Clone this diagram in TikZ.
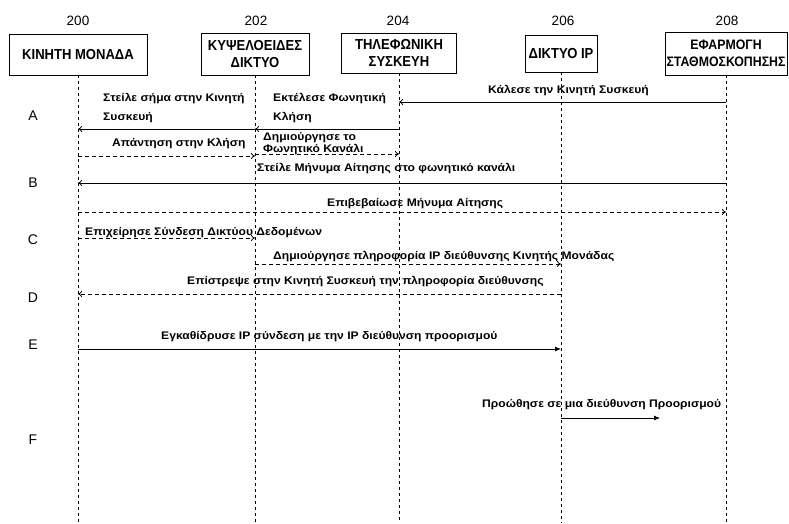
\documentclass[tikz,border=0pt]{standalone}
\usepackage{fontspec}
\setmainfont{Liberation Sans}
\newfontfamily\headfont{Liberation Sans}[FakeStretch=0.9]
\newfontfamily\msgfont{Liberation Sans}[FakeStretch=1.1]
\usetikzlibrary{arrows.meta}
\begin{document}
\begin{tikzpicture}[x=1pt,y=-1pt,
  hbox/.style={draw, line width=0.9pt, inner sep=0.5pt, align=center,
    font={\headfont\bfseries\fontsize{14.5}{17}\selectfont}},
  num/.style={font={\fontsize{13.5}{15}\selectfont}},
  rowlbl/.style={font={\fontsize{14}{16}\selectfont}},
  msg/.style={anchor=base west, inner sep=0pt, align=left,
    font={\msgfont\bfseries\fontsize{11}{19}\selectfont}},
  life/.style={line width=0.7pt, dash pattern=on 3pt off 3pt},
  solidmsg/.style={line width=0.8pt, -{To[length=4pt,width=6pt]}},
  dashmsg/.style={line width=0.8pt, dash pattern=on 4pt off 3pt, -{To[length=4pt,width=6pt]}},
  fillmsg/.style={line width=0.8pt, -{Latex[length=6pt,width=5pt]}}]
\useasboundingbox (0,0) rectangle (789,523);

% numbers
\node[num] (n200) at (78,21) {200};
\node[num] (n202) at (256,21) {202};
\node[num] (n204) at (398,21) {204};
\node[num] (n206) at (563,21) {206};
\node[num] (n208) at (727,21) {208};

% boxes
\node[hbox, minimum width=138pt, minimum height=41pt] (b200) at (78,54.5) {ΚΙΝΗΤΗ ΜΟΝΑΔΑ};
\node[hbox, minimum width=108pt, minimum height=42pt] (b202) at (255,54) {ΚΥΨΕΛΟΕΙΔΕΣ\\ΔΙΚΤΥΟ};
\node[hbox, minimum width=115pt, minimum height=40pt] (b204) at (399,53) {ΤΗΛΕΦΩΝΙΚΗ\\ΣΥΣΚΕΥΗ};
\node[hbox, minimum width=72pt, minimum height=37pt] (b206) at (561,53.5) {ΔΙΚΤΥΟ IP};
\node[hbox, minimum width=122pt, minimum height=43pt,
  font={\headfont\bfseries\fontsize{13.7}{17}\selectfont}] (b208) at (726,53.5) {ΕΦΑΡΜΟΓΗ\\ΣΤΑΘΜΟΣΚΟΠΗΣΗΣ};

% lifeline ends
\coordinate (bottom) at (0,523);
\foreach \b in {b200,b202,b204,b206,b208}{
  \draw[life] (\b.south) -- (\b.south |- bottom);
}

% row letters
\node[rowlbl] (rA) at (33,116) {A};
\node[rowlbl] (rB) at (33,183) {B};
\node[rowlbl] (rC) at (33,240) {C};
\node[rowlbl] (rD) at (33,298) {D};
\node[rowlbl] (rE) at (33,345) {E};
\node[rowlbl] (rF) at (33,440) {F};

% message levels
\coordinate (y1) at (0,102);
\coordinate (y2) at (0,129);
\coordinate (y4) at (0,156);
\coordinate (y5) at (0,154);
\coordinate (y6) at (0,183);
\coordinate (y7) at (0,212);
\coordinate (y8) at (0,238);
\coordinate (y9) at (0,264);
\coordinate (y10) at (0,294);
\coordinate (y11) at (0,349);
\coordinate (y12) at (0,418);
\coordinate (f12) at (660,418);

% arrows
\draw[solidmsg] (b208 |- y1) -- (b204 |- y1);
\draw[solidmsg] (b204 |- y2) -- (b202 |- y2);
\draw[solidmsg] (b202 |- y2) -- (b200 |- y2);
\draw[dashmsg] (b200 |- y4) -- (b202 |- y4);
\draw[dashmsg] (b202 |- y5) -- (b204 |- y5);
\draw[solidmsg] (b208 |- y6) -- (b200 |- y6);
\draw[dashmsg] (b200 |- y7) -- (b208 |- y7);
\draw[dashmsg] (b200 |- y8) -- (b202 |- y8);
\draw[dashmsg] (b202 |- y9) -- (b206 |- y9);
\draw[dashmsg] (b206 |- y10) -- (b200 |- y10);
\draw[fillmsg] (b200 |- y11) -- (b206 |- y11);
\draw[fillmsg] (b206 |- y12) -- (f12);

% labels (base = baseline of the last line)
\node[msg] (l1) at (488,93) {Κάλεσε την Κινητή Συσκευή};
\node[msg] (l2) at (103,120) {Στείλε σήμα στην Κινητή\\Συσκευή};
\node[msg] (l3) at (273,120) {Εκτέλεσε Φωνητική\\Κλήση};
\node[msg] (l4) at (112,146) {Απάντηση στην Κλήση};
\node[msg, font={\msgfont\bfseries\fontsize{11}{11.5}\selectfont}] (l5) at (263,152) {Δημιούργησε το\\Φωνητικό Κανάλι};
\node[msg] (l6) at (257,171) {Στείλε Μήνυμα Αίτησης στο φωνητικό κανάλι};
\node[msg] (l7) at (327,206) {Επιβεβαίωσε Μήνυμα Αίτησης};
\node[msg] (l8) at (85,235) {Επιχείρησε Σύνδεση Δικτύου Δεδομένων};
\node[msg] (l9) at (273,259) {Δημιούργησε πληροφορία IP διεύθυνσης Κινητής Μονάδας};
\node[msg] (l10) at (187,284) {Επίστρεψε στην Κινητή Συσκευή την πληροφορία διεύθυνσης};
\node[msg] (l11) at (161,339) {Εγκαθίδρυσε IP σύνδεση με την IP διεύθυνση προορισμού};
\node[msg] (l12) at (482,407) {Προώθησε σε μια διεύθυνση Προορισμού};
\end{tikzpicture}
\end{document}
